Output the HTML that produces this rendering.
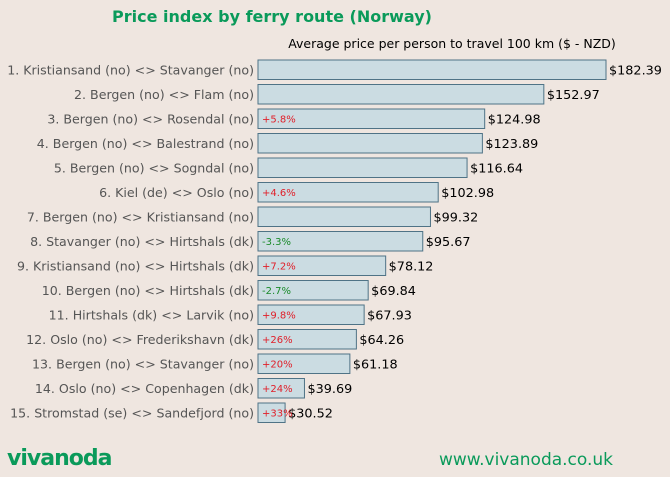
<!DOCTYPE html>
<html><head><meta charset="utf-8">
<style>
body{margin:0;background:#efe6e0;}
svg{display:block;font-family:"DejaVu Sans","Liberation Sans",sans-serif;}
</style></head>
<body>
<svg id="chart" width="670" height="477" viewBox="0 0 670 477">
<rect width="670" height="477" fill="#efe6e0"/>
<text x="272" y="22" text-anchor="middle" font-size="16" font-weight="bold" fill="#0a9a5a">Price index by ferry route (Norway)</text>
<text x="452" y="48" text-anchor="middle" font-size="12.5" fill="#000">Average price per person to travel 100 km ($ - NZD)</text>
<g id="bars"></g>
<text x="7" y="465" font-size="22" font-weight="bold" fill="#0a9a5a" letter-spacing="-1">vivanoda</text>
<text x="526" y="465" text-anchor="middle" font-size="17" fill="#0a9a5a">www.vivanoda.co.uk</text>
</svg>
<script>
const routes=["1. Kristiansand (no) <> Stavanger (no)","2. Bergen (no) <> Flam (no)","3. Bergen (no) <> Rosendal (no)","4. Bergen (no) <> Balestrand (no)","5. Bergen (no) <> Sogndal (no)","6. Kiel (de) <> Oslo (no)","7. Bergen (no) <> Kristiansand (no)","8. Stavanger (no) <> Hirtshals (dk)","9. Kristiansand (no) <> Hirtshals (dk)","10. Bergen (no) <> Hirtshals (dk)","11. Hirtshals (dk) <> Larvik (no)","12. Oslo (no) <> Frederikshavn (dk)","13. Bergen (no) <> Stavanger (no)","14. Oslo (no) <> Copenhagen (dk)","15. Stromstad (se) <> Sandefjord (no)"];
const prices=[182.39,152.97,124.98,123.89,116.64,102.98,99.32,95.67,78.12,69.84,67.93,64.26,61.18,39.69,30.52];
const changes=["","","+5.8%","","","+4.6%","","-3.3%","+7.2%","-2.7%","+9.8%","+26%","+20%","+24%","+33%"];
const NS="http://www.w3.org/2000/svg";
const g=document.getElementById('bars');
const xMin=17.7, xMax=182.39, pxMin=258, pxMax=606;
const x=v=>pxMin+(v-xMin)/(xMax-xMin)*(pxMax-pxMin);
const y=i=>60+i*24.5;
function mk(t,a){const e=document.createElementNS(NS,t);for(const k in a)e.setAttribute(k,a[k]);g.appendChild(e);return e;}
routes.forEach((r,i)=>{
  const l=mk('text',{x:254,y:y(i)+14.5,'text-anchor':'end','font-size':12.6,fill:'#555'});
  l.textContent=r;
  
  
  const b=mk('rect',{x:pxMin,y:y(i),width:x(prices[i])-pxMin,height:19.5,fill:'#cbdce2',stroke:'#4f7386','stroke-width':1});
  
  
  const v=mk('text',{x:x(prices[i])+3,y:y(i)+14.5,'font-size':12.8,fill:'#000'});
  v.textContent='$'+prices[i].toFixed(2);
  
  
  if(changes[i]){
    const c=mk('text',{x:262,y:y(i)+13.5,'font-size':10,fill:changes[i][0]=='-'?'#1a8a2a':'#e0202a'});
    c.textContent=changes[i];
    
    
  }
});
</script>
</body></html>
